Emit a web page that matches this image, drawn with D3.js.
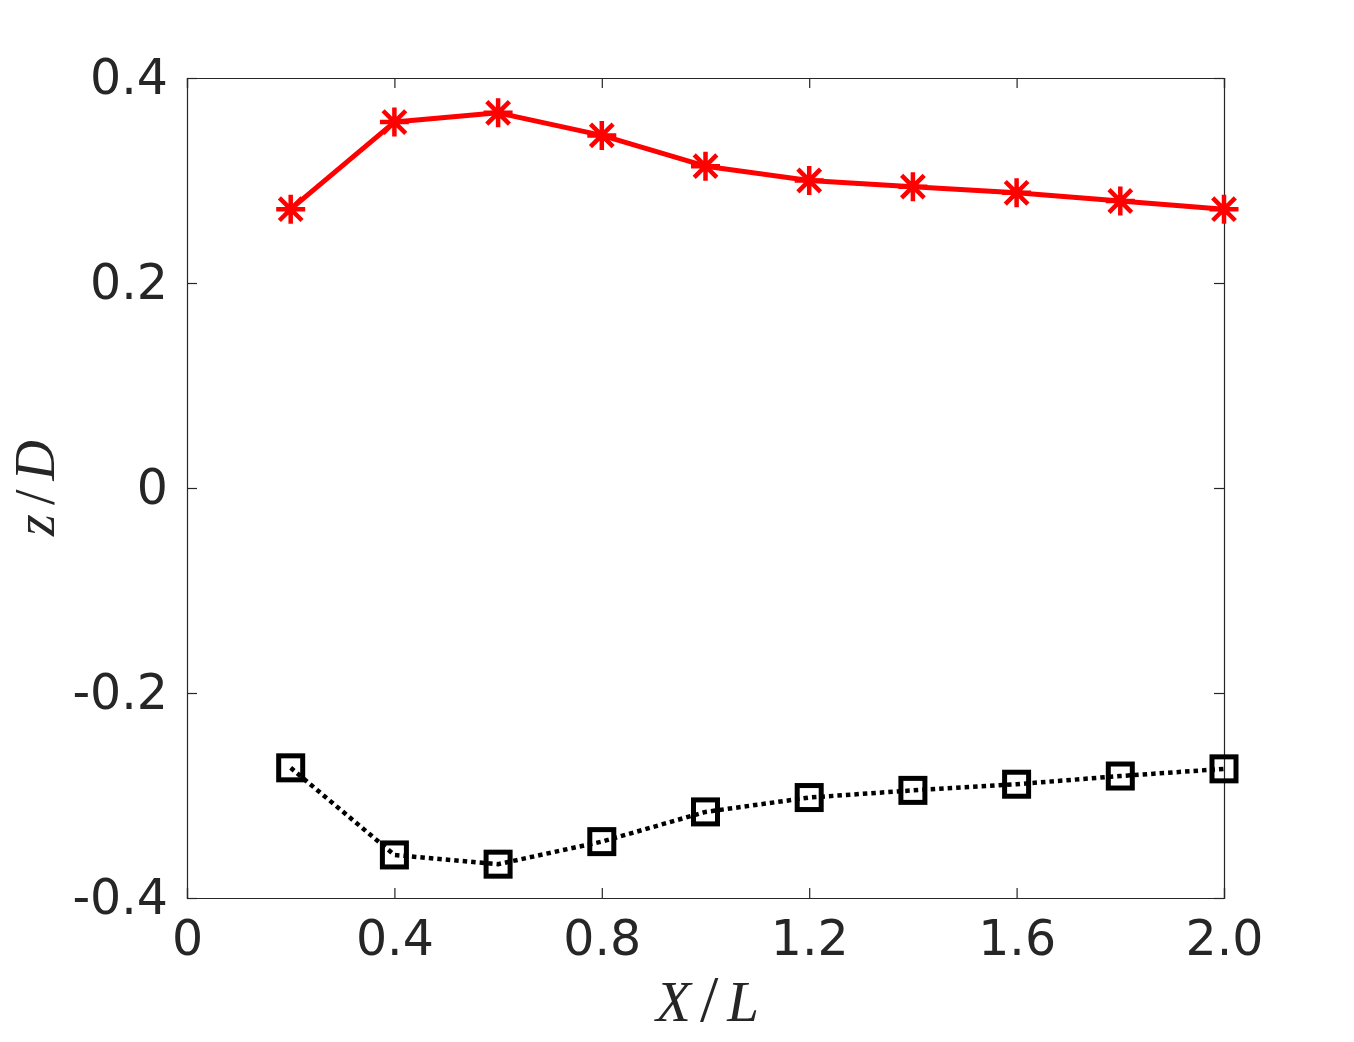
<!DOCTYPE html>
<html>
<head>
<meta charset="utf-8">
<script src="https://cdn.jsdelivr.net/npm/d3@7"></script>
<style>
  body { margin: 0; background: #fff; }
  svg { display: block; }
</style>
</head>
<body>
<svg width="1354" height="1042"></svg>
<script>
// chart values
var xPos = [0.2, 0.4, 0.6, 0.8, 1.0, 1.2, 1.4, 1.6, 1.8, 2.0];
var upper = [0.272, 0.357, 0.366, 0.344, 0.314, 0.300, 0.294, 0.288, 0.280, 0.272];
var lower = [-0.273, -0.358, -0.367, -0.345, -0.316, -0.302, -0.295, -0.289, -0.281, -0.274];
var xTicks = [0, 0.4, 0.8, 1.2, 1.6, 2.0];
var xTickLabels = ["0", "0.4", "0.8", "1.2", "1.6", "2.0"];
var yTicks = [-0.4, -0.2, 0, 0.2, 0.4];
var yTickLabels = ["-0.4", "-0.2", "0", "0.2", "0.4"];

var svg = d3.select("svg");
var margin = { top: 78, right: 130, bottom: 144, left: 187 };
var width = 1354 - margin.left - margin.right;
var height = 1042 - margin.top - margin.bottom;
var axisColor = "#262626";

var x = d3.scaleLinear().domain([0, 2.0]).range([0, width]);
var y = d3.scaleLinear().domain([-0.4, 0.4]).range([height, 0]);

var g = svg.append("g").attr("transform", "translate(" + margin.left + "," + margin.top + ")");

// axes with inward ticks on all four sides
var bottomAxis = d3.axisBottom(x).tickValues(xTicks).tickSize(-10).tickPadding(22)
  .tickFormat(function(d, i) { return xTickLabels[i]; });
var topAxis = d3.axisTop(x).tickValues(xTicks).tickSize(-10).tickFormat("");
var leftAxis = d3.axisLeft(y).tickValues(yTicks).tickSize(-10).tickPadding(19)
  .tickFormat(function(d, i) { return yTickLabels[i]; });
var rightAxis = d3.axisRight(y).tickValues(yTicks).tickSize(-10).tickFormat("");

function styleAxis(sel) {
  sel.selectAll("path, line").attr("stroke", axisColor).attr("stroke-width", 1.2);
  sel.selectAll("text")
    .attr("fill", axisColor)
    .style("font-family", "DejaVu Sans, sans-serif")
    .style("font-size", "49px");
}

g.append("g").attr("transform", "translate(0," + height + ")").call(bottomAxis).call(styleAxis);
g.append("g").call(topAxis).call(styleAxis);
g.append("g").call(leftAxis).call(styleAxis);
g.append("g").attr("transform", "translate(" + width + ",0)").call(rightAxis).call(styleAxis);

// lines
var line = d3.line()
  .x(function(d, i) { return x(xPos[i]); })
  .y(function(d) { return y(d); });

g.append("path")
  .datum(upper)
  .attr("d", line)
  .attr("fill", "none")
  .attr("stroke", "#ff0000")
  .attr("stroke-width", 5)
  .attr("stroke-linejoin", "round");

g.append("path")
  .datum(lower)
  .attr("d", line)
  .attr("fill", "none")
  .attr("stroke", "#000")
  .attr("stroke-width", 4.5)
  .attr("stroke-dasharray", "4.5,4");

// asterisk markers
var r = 14.5;
var star = "M" + (-r) + ",0L" + r + ",0M0," + (-r) + "L0," + r +
  "M" + (-r * 0.78) + "," + (-r * 0.78) + "L" + (r * 0.78) + "," + (r * 0.78) +
  "M" + (-r * 0.78) + "," + (r * 0.78) + "L" + (r * 0.78) + "," + (-r * 0.78);

g.selectAll(".star")
  .data(upper)
  .enter().append("path")
  .attr("class", "star")
  .attr("transform", function(d, i) { return "translate(" + x(xPos[i]) + "," + y(d) + ")"; })
  .attr("d", star)
  .attr("stroke", "#ff0000")
  .attr("stroke-width", 4.5)
  .attr("fill", "none");

// square markers
var s = 24;
g.selectAll(".sq")
  .data(lower)
  .enter().append("rect")
  .attr("class", "sq")
  .attr("x", function(d, i) { return x(xPos[i]) - s / 2; })
  .attr("y", function(d) { return y(d) - s / 2; })
  .attr("width", s)
  .attr("height", s)
  .attr("fill", "none")
  .attr("stroke", "#000")
  .attr("stroke-width", 5);

// axis labels (math style: italic letters, upright spaced slash)
function mathLabel(sel, a, b, size, slashSize) {
  sel.attr("text-anchor", "middle")
    .attr("fill", axisColor)
    .style("font-family", "Liberation Serif, serif")
    .style("font-size", size + "px");
  sel.append("tspan").style("font-style", "italic").text(a);
  sel.append("tspan").attr("dx", 9).style("font-size", slashSize + "px").text("/");
  sel.append("tspan").attr("dx", 9).style("font-style", "italic").text(b);
}

svg.append("text")
  .attr("x", margin.left + width / 2 + 2)
  .attr("y", 1021)
  .call(mathLabel, "X", "L", 57, 66);

svg.append("text")
  .attr("transform", "translate(54," + (margin.top + height / 2) + ") rotate(-90)")
  .call(mathLabel, "z", "D", 56, 56);
</script>
</body>
</html>
